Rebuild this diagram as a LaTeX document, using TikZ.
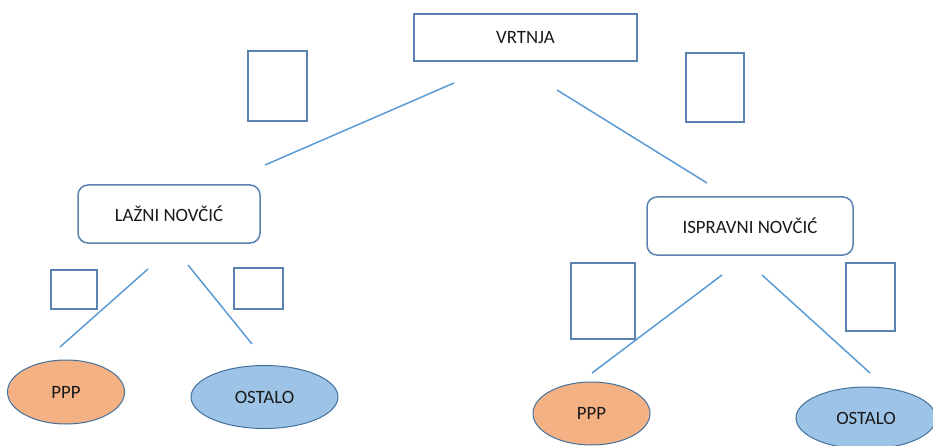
\documentclass[tikz,border=0pt]{standalone}
\usepackage{fontspec}
\setmainfont{Carlito}
\usetikzlibrary{shapes.geometric}
\definecolor{edgeblue}{HTML}{5B9BD5}
\definecolor{boxblue}{HTML}{5A82B0}
\definecolor{pppfill}{HTML}{F4B183}
\definecolor{ostfill}{HTML}{9DC3E6}
\definecolor{ellline}{HTML}{41719C}
\tikzset{
  every node/.style={inner sep=0pt, outer sep=0pt, font=\fontsize{18.8}{22}\selectfont, text=black!90},
  topbox/.style={draw=boxblue, line width=1.5pt, rectangle, minimum width=223pt, minimum height=47pt},
  coinbox/.style={draw=boxblue, line width=1.5pt, rectangle, rounded corners=10pt, minimum height=58pt},
  pppell/.style={draw=ellline, line width=1pt, ellipse, fill=pppfill, minimum width=117pt, minimum height=64pt},
  ostell/.style={draw=ellline, line width=1pt, ellipse, fill=ostfill, minimum height=63pt},
  blank/.style={draw=boxblue, line width=1.6pt, rectangle},
  conn/.style={draw=edgeblue, line width=1.5pt}
}
\begin{document}
\begin{tikzpicture}[x=1pt,y=-1pt]
\useasboundingbox (0,0) rectangle (933,446);
% main nodes
\node[topbox] (vrt) at (525.5,37.5) {VRTNJA};
\node[coinbox, minimum width=182pt] (laz) at (169,214) {LAŽNI NOVČIĆ};
\node[coinbox, minimum width=206pt] (isp) at (750,226) {ISPRAVNI NOVČIĆ};
\node[pppell] (ppp1) at (66,392) {PPP};
\node[ostell, minimum width=147pt] (ost1) at (264.5,397) {OSTALO};
\node[pppell, minimum height=63pt] (ppp2) at (591.5,413.5) {PPP};
\node[ostell, minimum width=140pt, minimum height=62pt] (ost2) at (866,418) {OSTALO};
% blank label boxes
\node[blank, minimum width=59pt, minimum height=70pt] (b1) at (277.5,86) {};
\node[blank, minimum width=58pt, minimum height=69pt] (b2) at (715,87.5) {};
\node[blank, minimum width=46pt, minimum height=39pt] (b3) at (74,289.5) {};
\node[blank, minimum width=49pt, minimum height=41pt] (b4) at (258.5,288.5) {};
\node[blank, minimum width=64pt, minimum height=76pt] (b5) at (603,301) {};
\node[blank, minimum width=49pt, minimum height=68pt] (b6) at (870.5,297) {};
% connector end points
\coordinate (t1a) at (454,83);
\coordinate (t1b) at (265,165);
\coordinate (t2a) at (557,90);
\coordinate (t2b) at (707,183);
\coordinate (l1a) at (148,269);
\coordinate (l1b) at (60,347);
\coordinate (l2a) at (188,265);
\coordinate (l2b) at (252,344);
\coordinate (r1a) at (722,275);
\coordinate (r1b) at (592,373);
\coordinate (r2a) at (762,275);
\coordinate (r2b) at (870,373);
\draw[conn] (t1a) -- (t1b);
\draw[conn] (t2a) -- (t2b);
\draw[conn] (l1a) -- (l1b);
\draw[conn] (l2a) -- (l2b);
\draw[conn] (r1a) -- (r1b);
\draw[conn] (r2a) -- (r2b);
\end{tikzpicture}
\end{document}
